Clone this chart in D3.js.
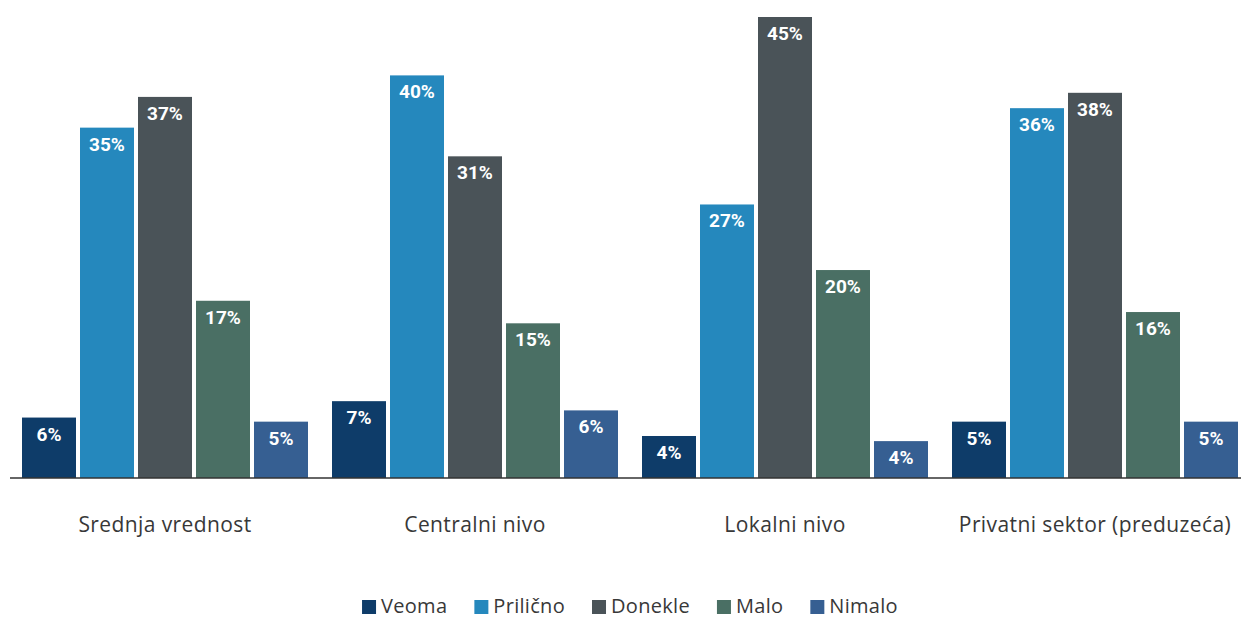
<!DOCTYPE html>
<html>
<head>
<meta charset="utf-8">
<script src="https://cdn.jsdelivr.net/npm/d3@7"></script>
<style>
    body { margin: 0; background: #fff; }
    #chart { width: 1241px; height: 620px; }
</style>
</head>
<body>
<div id="chart"></div>
<script>
// categories and series
let categories = ["Srednja vrednost", "Centralni nivo", "Lokalni nivo", "Privatni sektor (preduzeća)"];
let seriesNames = ["Veoma", "Prilično", "Donekle", "Malo", "Nimalo"];
let seriesColors = ["#0e3c69", "#2588bd", "#4a5358", "#4a6f64", "#365f92"];

// bar heights per series, one per category (%)
let veoma = [5.9, 7.5, 4.1, 5.5];
let prilicno = [34.2, 39.3, 26.7, 36.1];
let donekle = [37.2, 31.4, 45.0, 37.6];
let malo = [17.3, 15.1, 20.3, 16.2];
let nimalo = [5.5, 6.6, 3.6, 5.5];

// printed labels on the bars
let veomaLabels = ["6%", "7%", "4%", "5%"];
let prilicnoLabels = ["35%", "40%", "27%", "36%"];
let donekleLabels = ["37%", "31%", "45%", "38%"];
let maloLabels = ["17%", "15%", "20%", "16%"];
let nimaloLabels = ["5%", "6%", "4%", "5%"];

let seriesValues = [veoma, prilicno, donekle, malo, nimalo];
let seriesLabels = [veomaLabels, prilicnoLabels, donekleLabels, maloLabels, nimaloLabels];

let width = 1241, height = 620;
let baseline = 478;

let svg = d3.select("#chart")
    .append("svg")
    .attr("width", width)
    .attr("height", height);

// scales
let x0 = d3.scaleBand()
    .domain(categories)
    .range([10, 1250])
    .paddingInner(24 / 310)
    .paddingOuter(12 / 310);

let x1 = d3.scaleBand()
    .domain(seriesNames)
    .range([0, x0.bandwidth()])
    .paddingInner(4 / 58);

let y = d3.scaleLinear()
    .domain([0, 45])
    .range([baseline, 17]);

// build rows for each bar
let rows = [];
categories.forEach((c, ci) => {
    seriesNames.forEach((s, si) => {
        rows.push({
            cat: c,
            series: s,
            value: seriesValues[si][ci],
            label: seriesLabels[si][ci],
            color: seriesColors[si]
        });
    });
});

let groups = svg.selectAll("g.bar")
    .data(rows)
    .enter()
    .append("g")
    .attr("class", "bar")
    .attr("transform", d => `translate(${x0(d.cat) + x1(d.series)},0)`);

groups.append("rect")
    .attr("x", 0)
    .attr("y", d => y(d.value))
    .attr("width", x1.bandwidth())
    .attr("height", d => baseline - y(d.value))
    .attr("fill", d => d.color);

groups.append("text")
    .attr("x", x1.bandwidth() / 2)
    .attr("y", d => y(d.value) + 23)
    .attr("text-anchor", "middle")
    .attr("fill", "#fff")
    .style("font-family", "Roboto, sans-serif")
    .style("font-weight", 700)
    .style("font-size", "19px")
    .text(d => d.label);

// baseline axis
let xAxis = d3.axisBottom(x0).tickSize(0).tickPadding(0);
let axisG = svg.append("g")
    .attr("transform", `translate(0,${baseline})`)
    .call(xAxis);

axisG.select(".domain")
    .attr("d", `M10,0H${width}`)
    .attr("stroke", "#333")
    .attr("stroke-width", 1.5);

axisG.selectAll(".tick text")
    .attr("y", 54)
    .attr("dy", 0)
    .attr("fill", "#383838")
    .style("font-family", "'Open Sans', sans-serif")
    .style("font-size", "21px")
    .style("letter-spacing", "0.4px");

// legend
let legend = svg.append("g");
let lx = 0;
seriesNames.forEach((s, i) => {
    let item = legend.append("g").attr("transform", `translate(${lx},0)`);
    item.append("rect")
        .attr("x", 0)
        .attr("y", 600)
        .attr("width", 14)
        .attr("height", 14)
        .attr("fill", seriesColors[i]);
    let t = item.append("text")
        .attr("x", 19)
        .attr("y", 613)
        .attr("fill", "#383838")
        .style("font-family", "'Open Sans', sans-serif")
        .style("font-size", "20px")
        .style("letter-spacing", "0.3px")
        .text(s);
    lx += 19 + t.node().getComputedTextLength() + 27;
});
let legendWidth = lx - 27;
legend.attr("transform", `translate(${630 - legendWidth / 2},0)`);
</script>
</body>
</html>
